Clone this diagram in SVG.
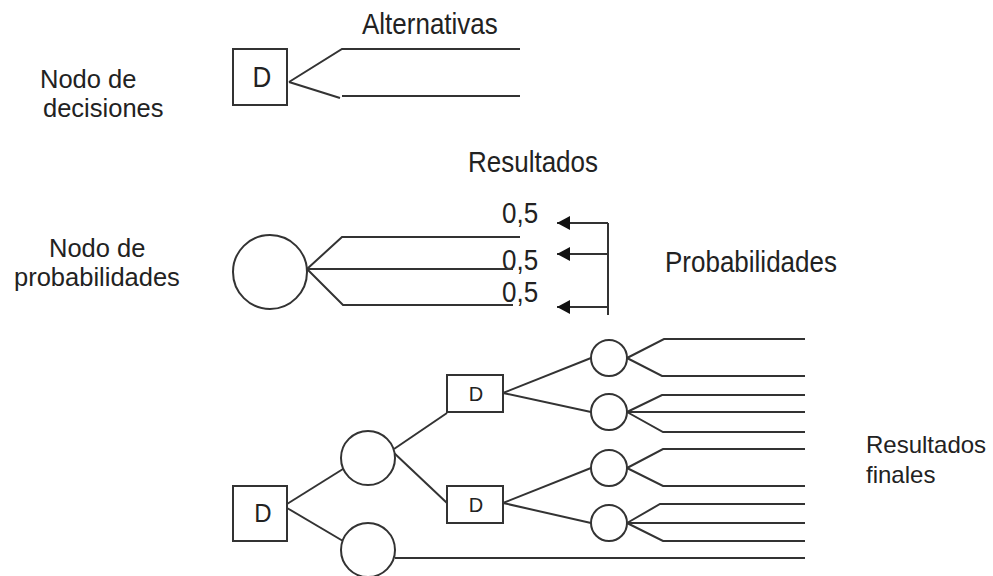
<svg xmlns="http://www.w3.org/2000/svg" width="993" height="576" viewBox="0 0 993 576">
<defs>
<style>
.ln{fill:none;stroke:#333;stroke-width:2;stroke-linejoin:miter}
.nd{fill:#fff;stroke:#333;stroke-width:2}
.t{font-family:"Liberation Sans",Arial,sans-serif;fill:#222;font-size:26px}
.tc{text-anchor:middle}
</style>
<marker id="ah" viewBox="0 0 13 14" refX="13" refY="7" markerWidth="13" markerHeight="14" markerUnits="userSpaceOnUse" orient="auto">
<path d="M0,0 L13,7 L0,14 Z" fill="#111"/>
</marker>
</defs>
<rect width="993" height="576" fill="#fff"/>

<g id="labels">
<text class="t" style="font-size:25.5px"><tspan x="40" y="88">Nodo de</tspan><tspan x="43" y="117">decisiones</tspan></text>
<text class="t" transform="translate(362,34) scale(1,1.12)">Alternativas</text>
<text class="t" transform="translate(468,172) scale(1,1.12)">Resultados</text>
<text class="t" style="font-size:25.5px"><tspan x="49" y="257">Nodo de</tspan><tspan x="14" y="286">probabilidades</tspan></text>
<text class="t" transform="translate(665,272) scale(1,1.12)">Probabilidades</text>
<text class="t" transform="translate(502,223) scale(1,1.12)">0,5</text>
<text class="t" transform="translate(502,270) scale(1,1.12)">0,5</text>
<text class="t" transform="translate(502,302) scale(1,1.12)">0,5</text>
<text class="t" style="font-size:24px"><tspan x="866" y="453">Resultados</tspan><tspan x="866" y="483">finales</tspan></text>
</g>

<g id="connectors">
<path class="ln" d="M289,82 L342,49 L520,49"/>
<path class="ln" d="M289,82 L340,98 M342,96 L520,96"/>
<path class="ln" d="M307,269 L342,237 L520,237"/>
<path class="ln" d="M307,269 L513,269"/>
<path class="ln" d="M307,269 L343,305 L513,305"/>
<path class="ln" d="M608,223 L608,315"/>
<path class="ln" d="M608,223 L557,223" marker-end="url(#ah)"/>
<path class="ln" d="M608,254 L557,254" marker-end="url(#ah)"/>
<path class="ln" d="M608,307 L557,307" marker-end="url(#ah)"/>
<path class="ln" d="M287,504 L343,469"/>
<path class="ln" d="M287,508 L343,541"/>
<path class="ln" d="M394,449 L447,413"/>
<path class="ln" d="M393,452 L447,503"/>
<path class="ln" d="M395,558 L805,558"/>
<path class="ln" d="M503,393 L591,358"/>
<path class="ln" d="M503,393 L591,412"/>
<path class="ln" d="M503,503 L591,468"/>
<path class="ln" d="M503,503 L591,523"/>
<path class="ln" d="M627,358 L664,339 L805,339 M627,358 L662,376 L805,376"/>
<path class="ln" d="M627,412 L662,395 L805,395 M627,412 L805,412 M627,412 L663,432 L805,432"/>
<path class="ln" d="M627,468 L663,449 L805,449 M627,468 L663,486 L805,486"/>
<path class="ln" d="M627,523 L660,504 L805,504 M627,523 L805,523 M627,523 L663,541 L805,541"/>
</g>

<g id="decision-legend"><rect class="nd" x="233" y="49" width="54" height="56"/><text class="t tc" transform="translate(262,87) scale(1,1.15)">D</text></g>
<g id="chance-legend"><circle class="nd" cx="270" cy="272" r="37"/></g>

<g id="d-root"><rect class="nd" x="233" y="486" width="54" height="55"/><text class="t tc" transform="translate(263,522) scale(1,1.1)" style="font-size:24px">D</text></g>
<g id="c1"><circle class="nd" cx="368" cy="458" r="27"/></g>
<g id="c2"><circle class="nd" cx="368" cy="550" r="27"/></g>
<g id="d2"><rect class="nd" x="447" y="375" width="56" height="37"/><text class="t tc" x="476" y="401" style="font-size:20px">D</text></g>
<g id="d3"><rect class="nd" x="447" y="486" width="56" height="37"/><text class="t tc" x="476" y="512" style="font-size:20px">D</text></g>
<g id="ca"><circle class="nd" cx="609" cy="358" r="18"/></g>
<g id="cb"><circle class="nd" cx="609" cy="412" r="18"/></g>
<g id="cc"><circle class="nd" cx="609" cy="468" r="18"/></g>
<g id="cd"><circle class="nd" cx="609" cy="523" r="18"/></g>
</svg>
